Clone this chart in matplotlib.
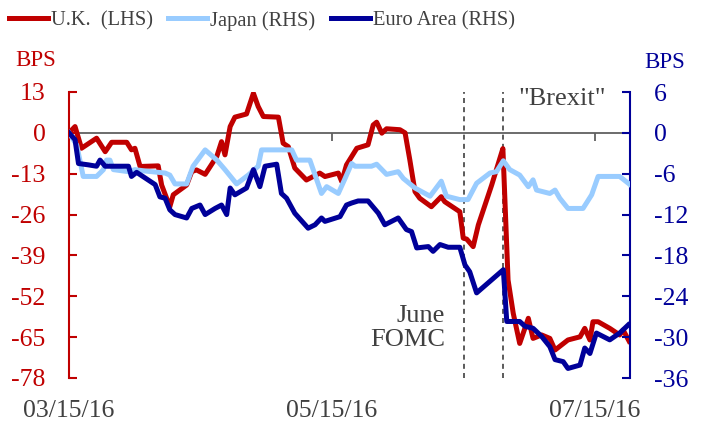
import matplotlib
matplotlib.use('Agg')
import matplotlib.pyplot as plt
import pandas as pd

plt.rcParams['font.family'] = ['Liberation Serif', 'DejaVu Serif']

START = '2016-03-15'

UK_DAYS = [0, 1.4, 2.9, 6.4, 8.4, 9.9, 13.4, 14.5, 15.3, 16.5, 20.7, 21.5, 23.4, 24.2,
           27.3, 28.5, 29.6, 31.6, 34.3, 35.4, 36.2, 37.4, 38.5, 41.2, 42.8, 43.9, 45.1,
           48.6, 49.7, 50.9, 52.4, 55.1, 58.2, 59.4, 62.5, 63.3, 64.4, 66.8, 69.4, 70.6,
           71.4, 72.6, 73.7, 76.8, 78.0, 79.1, 80.3, 81.4, 84.1, 86.4, 87.2, 90.7, 91.5,
           92.3, 93.8, 95.0, 98.1, 100.0, 100.7, 101.9, 103.1, 104.6, 106.6, 107.7, 109.7,
           111.6, 112.8, 115.8, 118.6, 119.7, 120.9, 121.6, 122.8, 125.5, 127.8, 128.6, 130.0]
UK_VALUES = [0, 2, -4.9, -1.7, -6, -3, -3, -5.4, -4.9, -10.7, -10.5, -16.6, -23.5, -19.7,
             -16.6, -12.3, -11.8, -13.2, -7.5, -2.8, -7, 2, 5, 6, 12.6, 8.4, 5.2,
             5, -3.3, -4.4, -11.2, -15, -12.8, -13.9, -12.8, -15.5, -10.2, -4.9, -3.8, 2.5,
             3.4, -0.1, 1.3, 1, 0, -8.6, -18.7, -20.8, -23.5, -20.3, -21.9, -25.1, -33.5,
             -33.8, -36.2, -29.3, -16.6, -8.1, -5, -46.8, -57.4, -67, -59, -65.4, -64.3,
             -65.4, -69.1, -65.9, -64.9, -62.2, -65.9, -60.1, -60.1, -62.2, -64.3, -62.7, -66.3]

JP_DAYS = [0, 1.8, 3.3, 6.4, 8.0, 8.7, 9.5, 10.3, 13.8, 15.3, 17.6, 22.3, 23.4, 24.6,
           27.3, 28.8, 31.6, 34.3, 36.2, 38.9, 41.6, 43.9, 44.7, 51.7, 52.8, 55.9, 58.6,
           59.8, 62.5, 64.0, 65.6, 66.4, 70.2, 71.4, 73.7, 76.4, 77.6, 80.3, 83.8, 86.4,
           87.6, 90.7, 92.6, 94.6, 97.7, 99.2, 100.8, 102.3, 104.6, 106.6, 107.7, 108.5,
           111.6, 112.8, 113.9, 115.8, 119.3, 121.3, 122.8, 127.8, 130.2]
JP_VALUES = [0, -1.8, -6.4, -6.4, -5.4, -4.0, -4.0, -5.4, -5.7, -5.4, -5.6, -5.9, -6.2, -7.5,
             -7.5, -4.9, -2.5, -4.0, -5.4, -7.5, -6.2, -4.9, -2.5, -2.5, -4.0, -4.0, -8.9,
             -7.9, -8.9, -6.8, -4.5, -4.9, -4.9, -4.6, -6.1, -5.7, -6.7, -8.1, -9.3, -7.1,
             -9.3, -9.8, -9.8, -7.4, -5.9, -5.7, -4.1, -5.4, -6.2, -7.9, -6.9, -8.4,
             -8.9, -8.4, -9.6, -11.1, -11.1, -9.1, -6.4, -6.4, -7.6]

EA_DAYS = [0, 1.4, 2.2, 4.5, 6.4, 7.2, 8.4, 13.8, 14.5, 15.7, 20.0, 21.1, 22.3, 23.4, 24.6,
           27.3, 28.5, 30.4, 31.6, 33.9, 35.4, 36.6, 37.4, 38.5, 41.2, 42.8, 44.3, 45.5,
           48.2, 49.3, 50.5, 52.4, 55.5, 57.1, 58.6, 59.4, 62.9, 64.4, 65.6, 67.1, 69.4,
           71.8, 73.3, 76.4, 78.3, 79.5, 80.7, 83.4, 84.5, 86.1, 88.0, 90.7, 91.9, 93.0,
           94.6, 100.8, 101.6, 104.6, 105.8, 107.7, 109.7, 111.6, 112.8, 114.7, 115.8,
           118.6, 119.7, 120.9, 122.4, 125.5, 127.8, 129.8]
EA_VALUES = [0, -1.0, -4.5, -4.7, -4.9, -4.0, -4.9, -4.9, -6.4, -5.8, -7.6, -9.4, -9.6, -11.3, -12.0,
             -12.5, -11.1, -10.6, -12.0, -11.1, -10.6, -12.0, -8.1, -9.1, -8.1, -5.4, -7.9, -4.9,
             -4.6, -8.9, -9.6, -11.8, -14.0, -13.5, -12.5, -13.0, -12.3, -10.6, -10.3, -10.0, -10.0,
             -11.8, -13.5, -12.5, -14.2, -14.5, -16.9, -16.7, -17.4, -16.4, -16.8, -16.8, -19.4, -20.4,
             -23.5, -20.1, -27.7, -27.7, -28.4, -28.7, -29.9, -31.4, -33.3, -33.6, -34.6,
             -34.1, -31.6, -32.4, -29.4, -30.4, -29.4, -28.2]

SERIES_LABELS = ['U.K.  (LHS)', 'Japan (RHS)', 'Euro Area (RHS)']
LEFT_TICKS = [13, 0, -13, -26, -39, -52, -65, -78]
RIGHT_TICKS = [6, 0, -6, -12, -18, -24, -30, -36]
X_TICKS = ['2016-03-15', '2016-05-15', '2016-07-15']
X_TICK_LABELS = ['03/15/16', '05/15/16', '07/15/16']
X_END_DAY = 130.2
EVENT_DAYS = [91.6, 100.7]
EVENT_LABELS = ['June\nFOMC', '"Brexit"']

RED = '#C00000'
LIGHT = '#99CCFF'
NAVY = '#000099'
GRAY = '#404040'


def to_dates(days):
    return pd.Timestamp(START) + pd.to_timedelta(pd.Series(days, dtype=float), unit='D')


fig = plt.figure(figsize=(7.04, 4.23), dpi=100)
ax = fig.add_axes([69 / 704, 1 - 378 / 423, (630 - 69) / 704, (378 - 92) / 423])
ax2 = ax.twinx()

l_uk, = ax.plot(to_dates(UK_DAYS), UK_VALUES, color=RED, lw=3.6, solid_joinstyle='round', zorder=3)
l_jp, = ax2.plot(to_dates(JP_DAYS), JP_VALUES, color=LIGHT, lw=3.6, solid_joinstyle='round', zorder=3)
l_ea, = ax2.plot(to_dates(EA_DAYS), EA_VALUES, color=NAVY, lw=3.6, solid_joinstyle='round', zorder=4)

for d in EVENT_DAYS:
    ax.axvline(to_dates([d])[0], color=GRAY, lw=1.2, ls=(0, (3, 2.5)), zorder=2)

ax.set_xlim(pd.Timestamp(START), to_dates([X_END_DAY])[0])
ax.set_ylim(LEFT_TICKS[-1], LEFT_TICKS[0])
ax2.set_ylim(RIGHT_TICKS[-1], RIGHT_TICKS[0])

ax.set_yticks(LEFT_TICKS)
ax.set_yticklabels([str(t) for t in LEFT_TICKS])
ax2.set_yticks(RIGHT_TICKS)
ax2.set_yticklabels([str(t) for t in RIGHT_TICKS])

ax.set_xticks(pd.to_datetime(X_TICKS))
ax.set_xticklabels(X_TICK_LABELS)

for s in ['top', 'right']:
    ax.spines[s].set_visible(False)
for s in ['top', 'left', 'bottom']:
    ax2.spines[s].set_visible(False)
ax.spines['left'].set_color(RED)
ax.spines['left'].set_linewidth(1.5)
ax2.spines['right'].set_color(NAVY)
ax2.spines['right'].set_linewidth(1.5)
ax.spines['bottom'].set_position(('data', 0))
ax.spines['bottom'].set_color('#606060')
ax.spines['bottom'].set_linewidth(1.3)
ax.spines['bottom'].set_zorder(1)

ax.tick_params(axis='y', direction='in', length=6, width=1.5, color=RED,
               labelcolor=RED, labelsize=18.5, pad=17)
ax2.tick_params(axis='y', direction='in', length=6, width=1.5, color=NAVY,
                labelcolor=NAVY, labelsize=18.5, pad=17)
ax.tick_params(axis='x', direction='out', length=6, width=1.3, color='#606060',
               labelcolor=GRAY, labelsize=18.5, pad=186)

fig.legend([l_uk, l_jp, l_ea], SERIES_LABELS, loc='center', bbox_to_anchor=(0.372, 0.951),
           ncol=3, frameon=False, fontsize=14.8, handlelength=1.9, handletextpad=0.15,
           columnspacing=0.75, labelcolor=GRAY)

fig.text(36 / 704, 1 - 60 / 423, 'BPS', color=RED, fontsize=16.5, ha='center', va='center')
fig.text(665 / 704, 1 - 62 / 423, 'BPS', color=NAVY, fontsize=16.5, ha='center', va='center')
fig.text(445 / 704, 1 - 328 / 423, EVENT_LABELS[0], color=GRAY, fontsize=19,
         ha='right', va='center', multialignment='right', linespacing=1.15)
fig.text(562 / 704, 1 - 99 / 423, EVENT_LABELS[1], color=GRAY, fontsize=19,
         ha='center', va='center')

fig.savefig('out.png', dpi=100)
